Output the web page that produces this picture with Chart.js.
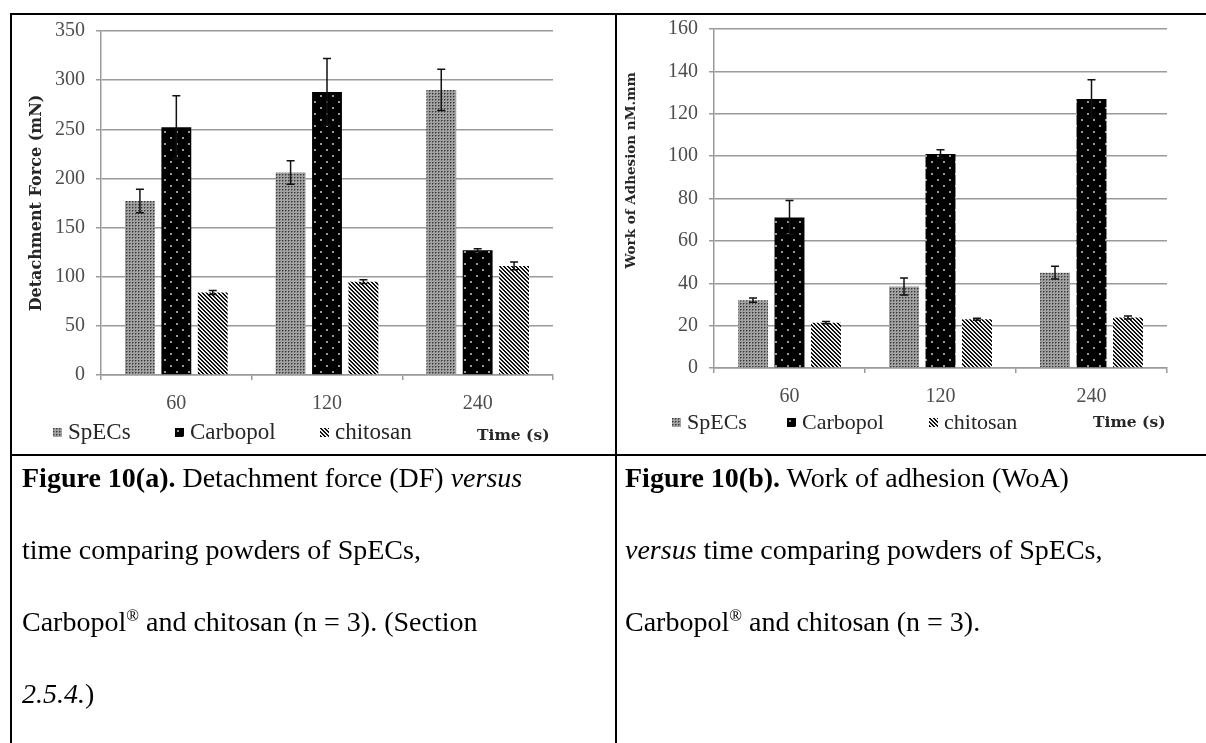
<!DOCTYPE html>
<html>
<head>
<meta charset="utf-8">
<script src="https://cdn.jsdelivr.net/npm/chart.js@4.4.0/dist/chart.umd.min.js"></script>
<style>
  body { margin: 0; background: #fff; width: 1206px; height: 743px; position: relative; overflow: hidden; font-family: 'Liberation Serif', serif; }
  .rule { position: absolute; background: #000; }
  .cell { position: absolute; }
  .legend-item { position: absolute; display: flex; align-items: center; color: #262626; white-space: nowrap; transform: translateY(-50%); }
  .legend-item canvas { margin-right: 6px; }
  .axis-note { position: absolute; font-family: 'DejaVu Serif', serif; font-weight: bold; font-size: 15.5px; color: #262626; transform: translateY(-50%); white-space: nowrap; }
  .caption { position: absolute; font-size: 28px; line-height: 72px; color: #000; white-space: nowrap; }
  .caption sup { font-size: 60%; line-height: 0; }
</style>
</head>
<body>
<div class="rule" style="left:10px;top:13px;width:1196px;height:2px"></div>
<div class="rule" style="left:10px;top:13px;width:2px;height:730px"></div>
<div class="rule" style="left:615px;top:13px;width:2px;height:730px"></div>
<div class="rule" style="left:10px;top:454px;width:1196px;height:2px"></div>

<div class="cell" style="left:12px;top:15px;width:602px;height:439px"><canvas id="dfChart"></canvas></div>
<div class="cell" style="left:617px;top:15px;width:589px;height:439px"><canvas id="woaChart"></canvas></div>

<div id="legendA"></div>
<div id="legendB"></div>
<div class="axis-note" style="left:477px;top:434px">Time (s)</div>
<div class="axis-note" style="left:1093px;top:421px">Time (s)</div>

<div class="caption" style="left:22px;top:442px"><b>Figure 10(a).</b> Detachment force (DF) <i>versus</i><br>time comparing powders of SpECs,<br>Carbopol<sup>®</sup> and chitosan (n = 3). (Section<br><i>2.5.4.</i>)</div>
<div class="caption" style="left:625px;top:442px"><b>Figure 10(b).</b> Work of adhesion (WoA)<br><i>versus</i> time comparing powders of SpECs,<br>Carbopol<sup>®</sup> and chitosan (n = 3).</div>

<script>
const times = ['60', '120', '240'];
const seriesNames = ['SpECs', 'Carbopol', 'chitosan'];

// Figure 10(a): detachment force, mN
const dfSpECs = [177, 206, 290];
const dfSpECsErr = [12, 12, 21];
const dfCarbopol = [252, 288, 127];
const dfCarbopolErr = [32, 34, 1.5];
const dfChitosan = [84, 95, 111];
const dfChitosanErr = [2, 2, 4];

// Figure 10(b): work of adhesion, nM.mm
const woaSpECs = [32, 38.5, 45];
const woaSpECsErr = [1, 4, 3];
const woaCarbopol = [71, 101, 127];
const woaCarbopolErr = [8, 2, 9];
const woaChitosan = [21.4, 23, 23.8];
const woaChitosanErr = [0.5, 0.5, 0.7];

const kinds = ['grey', 'dots', 'stripes'];

function makeTile(kind) {
    const c = document.createElement('canvas');
    const g = c.getContext('2d');
    if (kind === 'grey') {
        c.width = 3; c.height = 3;
        g.fillStyle = '#a2a2a2'; g.fillRect(0, 0, 3, 3);
        g.fillStyle = '#3a3a3a'; g.fillRect(0, 0, 1, 1);
        g.fillStyle = '#6e6e6e'; g.fillRect(1, 0, 1, 1); g.fillRect(0, 1, 1, 1);
    } else if (kind === 'dots') {
        c.width = 12; c.height = 12;
        g.fillStyle = '#000'; g.fillRect(0, 0, 12, 12);
        g.fillStyle = '#9a9a9a';
        g.fillRect(2, 2, 2, 2);
        g.fillRect(8, 8, 2, 2);
    } else {
        c.width = 4; c.height = 4;
        for (let i = 0; i < 4; i++) {
            for (let j = 0; j < 4; j++) {
                g.fillStyle = ((i - j + 4) % 4) < 2 ? '#111' : '#eeeeee';
                g.fillRect(i, j, 1, 1);
            }
        }
    }
    return c;
}

const patternCtx = document.createElement('canvas').getContext('2d');
const fills = kinds.map(k => patternCtx.createPattern(makeTile(k), 'repeat'));

const errorBars = {
    id: 'errorBars',
    afterDatasetsDraw(chart) {
        const ctx = chart.ctx;
        const y = chart.scales.y;
        chart.data.datasets.forEach((ds, i) => {
            chart.getDatasetMeta(i).data.forEach((bar, j) => {
                const top = y.getPixelForValue(ds.data[j] + ds.errors[j]);
                const bot = y.getPixelForValue(ds.data[j] - ds.errors[j]);
                ctx.save();
                ctx.strokeStyle = '#111';
                ctx.lineWidth = 1.5;
                ctx.beginPath();
                ctx.moveTo(bar.x, top); ctx.lineTo(bar.x, bot);
                ctx.moveTo(bar.x - 4, top); ctx.lineTo(bar.x + 4, top);
                ctx.moveTo(bar.x - 4, bot); ctx.lineTo(bar.x + 4, bot);
                ctx.stroke();
                ctx.restore();
            });
        });
    }
};

function renderChart(id, values, errors, yCfg) {
    const data = {
        labels: times,
        datasets: seriesNames.map((name, i) => ({
            label: name,
            data: values[i],
            errors: errors[i],
            backgroundColor: fills[i],
            borderWidth: 0,
            categoryPercentage: 0.725,
            barPercentage: 0.82
        }))
    };

    const tickFont = { family: 'Liberation Serif', size: 20 };
    const gridGrey = '#9a9a9a';

    const options = {
        responsive: true,
        maintainAspectRatio: false,
        animation: false,
        layout: { padding: yCfg.padding },
        plugins: {
            legend: { display: false },
            tooltip: { enabled: false }
        },
        scales: {
            x: {
                grid: { display: true, drawOnChartArea: false, drawTicks: true, tickLength: 5, color: gridGrey, lineWidth: 1.5, offset: true },
                border: { color: gridGrey, width: 1.5 },
                ticks: { color: '#4d4d4d', font: tickFont, padding: 12 },
                afterFit(s) { s.height = yCfg.xHeight; }
            },
            y: {
                min: 0,
                max: yCfg.max,
                ticks: { stepSize: yCfg.step, color: '#4d4d4d', font: tickFont, padding: 11 },
                grid: { color: gridGrey, lineWidth: 1.5, tickLength: 5 },
                border: { color: gridGrey, width: 1.5 },
                title: {
                    display: true,
                    text: yCfg.title,
                    color: '#262626',
                    font: { family: 'DejaVu Serif', weight: 'bold', size: yCfg.titleSize },
                    padding: { top: yCfg.titlePad, bottom: 0 }
                },
                afterFit(s) {
                    s.width = yCfg.yWidth;
                    s.paddingTop = 0;
                    s.paddingBottom = 0;
                }
            }
        }
    };

    return new Chart(id, { type: 'bar', data, options, plugins: [errorBars] });
}

function buildLegend(holderId, lefts, centreY, fontSize) {
    const holder = document.getElementById(holderId);
    seriesNames.forEach((name, i) => {
        const item = document.createElement('div');
        item.className = 'legend-item';
        item.style.left = lefts[i] + 'px';
        item.style.top = centreY + 'px';
        item.style.fontSize = fontSize + 'px';
        const sw = document.createElement('canvas');
        sw.width = 9; sw.height = 9;
        const g = sw.getContext('2d');
        g.fillStyle = g.createPattern(makeTile(kinds[i]), 'repeat');
        g.fillRect(0, 0, 9, 9);
        item.appendChild(sw);
        item.appendChild(document.createTextNode(name));
        holder.appendChild(item);
    });
}

renderChart('dfChart',
    [dfSpECs, dfCarbopol, dfChitosan],
    [dfSpECsErr, dfCarbopolErr, dfChitosanErr],
    { max: 350, step: 50, title: 'Detachment Force (mN)', titleSize: 16, titlePad: 15,
      yWidth: 89, xHeight: 79, padding: { top: 16, right: 61, left: 0, bottom: 0 } });

renderChart('woaChart',
    [woaSpECs, woaCarbopol, woaChitosan],
    [woaSpECsErr, woaCarbopolErr, woaChitosanErr],
    { max: 160, step: 20, title: '            Work of Adhesion nM.mm', titleSize: 13.5, titlePad: 6,
      yWidth: 97, xHeight: 86, padding: { top: 14, right: 39, left: 0, bottom: 0 } });

buildLegend('legendA', [53, 175, 320], 432, 23);
buildLegend('legendB', [672, 787, 929], 422, 22);
</script>
</body>
</html>
